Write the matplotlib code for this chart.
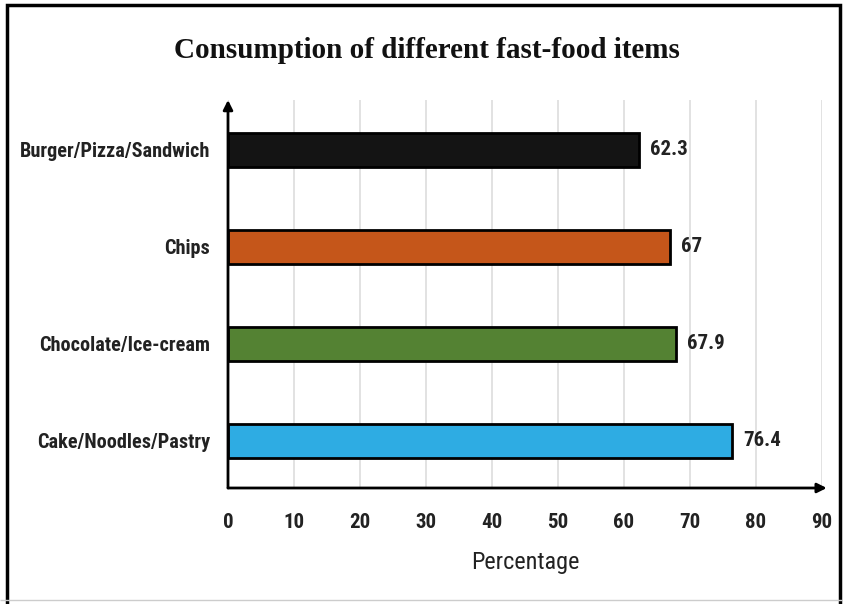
import matplotlib
matplotlib.use("Agg")
import matplotlib.pyplot as plt
from matplotlib.patches import Rectangle

categories = ["Cake/Noodles/Pastry", "Chocolate/Ice-cream", "Chips", "Burger/Pizza/Sandwich"]
values = [76.4, 67.9, 67, 62.3]
value_labels = ["76.4", "67.9", "67", "62.3"]
colors = ["#2EACE3", "#548233", "#C5561A", "#141414"]
xticks = [0, 10, 20, 30, 40, 50, 60, 70, 80, 90]

LBL = ["Liberation Sans Narrow", "Roboto Condensed", "DejaVu Sans Condensed", "DejaVu Sans"]

fig = plt.figure(figsize=(8.43, 6.04), dpi=100)
fig.patches.append(Rectangle((0.008, -0.01), 0.988, 1.001, transform=fig.transFigure,
                             fill=False, edgecolor="black", linewidth=2.5, zorder=0))
fig.patches.append(Rectangle((0.0, 0.006), 1.0, 0.0, transform=fig.transFigure,
                             fill=False, edgecolor="#cccccc", linewidth=1, zorder=0))

ax = fig.add_axes([228 / 843, (604 - 488) / 604, 594 / 843, 388 / 604])
ax.set_xlim(0, 90)
ax.set_ylim(-0.485, 3.515)
for s in ax.spines.values():
    s.set_visible(False)

ax.barh(range(len(categories)), values, height=0.35, color=colors,
        edgecolor="black", linewidth=2, zorder=3)
for i, (v, t) in enumerate(zip(values, value_labels)):
    ax.annotate(t, (v, i), xytext=(8, 0), textcoords="offset points",
                va="center", ha="left", fontsize=15, fontweight="bold",
                family=LBL, color="#222222")

ax.set_xticks(xticks)
ax.set_xticklabels([str(x) for x in xticks])
ax.set_yticks(range(len(categories)))
ax.set_yticklabels(categories)
ax.tick_params(axis="both", length=0)
ax.tick_params(axis="x", pad=18)
ax.tick_params(axis="y", pad=13)
for lab in ax.get_xticklabels():
    lab.set_family(LBL)
    lab.set_fontweight("bold")
    lab.set_fontsize(15)
    lab.set_color("#222222")
for lab in ax.get_yticklabels():
    lab.set_family(LBL)
    lab.set_fontweight("bold")
    lab.set_fontsize(14.6)
    lab.set_color("#222222")

ax.grid(axis="x", color="#dddddd", linewidth=1.2, zorder=0)
ax.set_axisbelow(True)

# axes with arrows
ax.annotate("", xy=(0, 1.0), xytext=(0, 0), xycoords="axes fraction",
            arrowprops=dict(arrowstyle="-|>", color="black", lw=2, mutation_scale=14,
                            shrinkA=0, shrinkB=0), zorder=5)
ax.annotate("", xy=(1.008, 0), xytext=(0, 0), xycoords="axes fraction",
            arrowprops=dict(arrowstyle="-|>", color="black", lw=2, mutation_scale=14,
                            shrinkA=0, shrinkB=0), zorder=5)

ax.set_xlabel("Percentage", family=LBL, fontsize=17.5, labelpad=14, color="#222222")

fig.text(427 / 843, 1 - 50 / 604, "Consumption of different fast-food items",
         ha="center", va="center", family=["Liberation Serif", "DejaVu Serif"],
         fontweight="bold", fontsize=21, color="#111111")

fig.savefig("out.png", dpi=100)
